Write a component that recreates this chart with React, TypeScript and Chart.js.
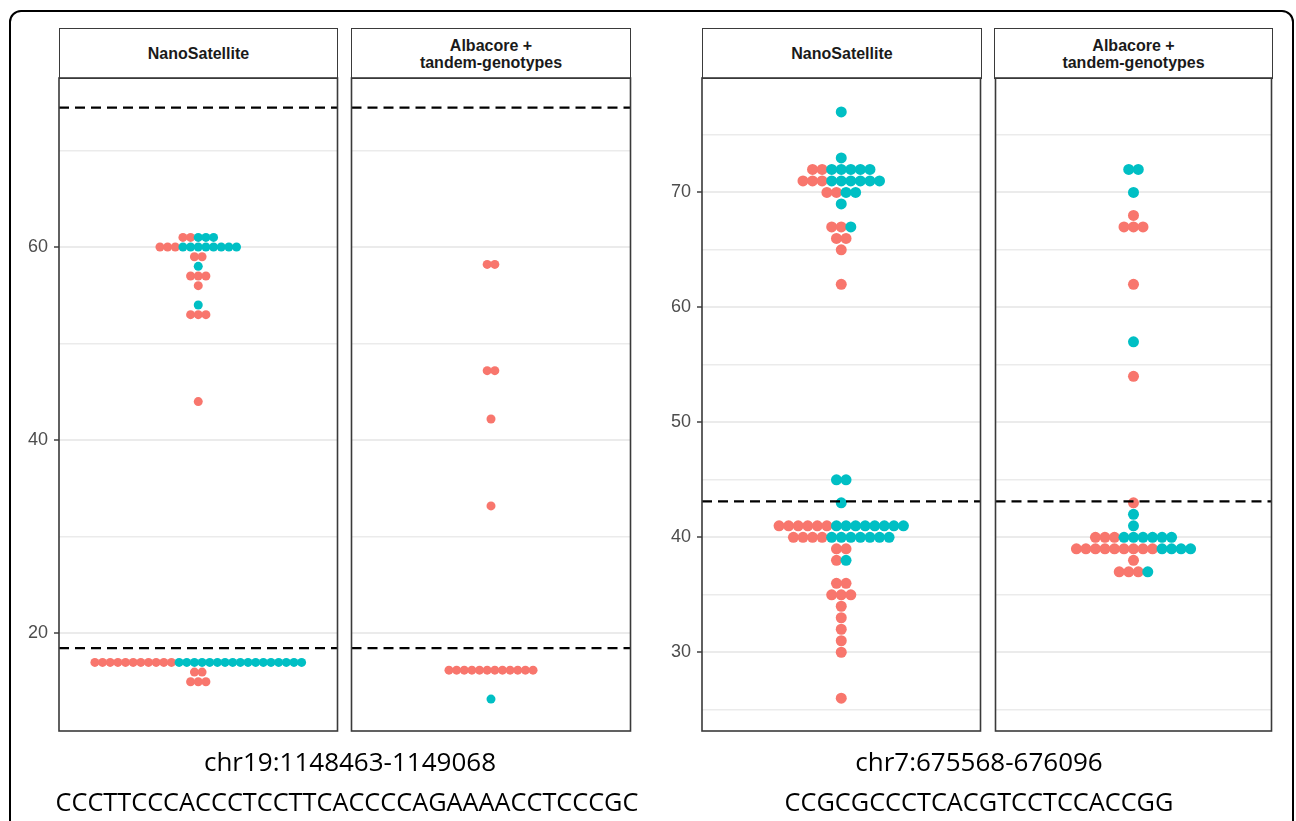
import React, { useEffect, useRef } from 'react';
import { Chart, registerables } from 'chart.js';

Chart.register(...registerables);

const RED = '#F8766D';
const TEAL = '#00BFC4';

// ---- chr19:1148463-1149068 ----
const chr19NanoValues = [61, 60, 59, 58, 57, 56, 54, 53, 44, 17, 16, 15];
const chr19NanoRed = [2, 3, 2, 0, 3, 1, 0, 3, 1, 11, 2, 3];
const chr19NanoTeal = [3, 8, 0, 1, 0, 0, 1, 0, 0, 17, 0, 0];

const chr19AlbValues = [58.2, 47.2, 42.2, 33.2, 16.2, 13.2];
const chr19AlbRed = [2, 2, 1, 1, 12, 0];
const chr19AlbTeal = [0, 0, 0, 0, 0, 1];

const chr19RefLines = [74.44, 18.48];
const chr19MajorTicks = [20, 40, 60];
const chr19MinorTicks = [30, 50, 70];

// ---- chr7:675568-676096 ----
const chr7NanoValues = [77, 73, 72, 71, 70, 69, 67, 66, 65, 62, 45, 43, 41, 40, 39, 38, 36, 35, 34, 33, 32, 31, 30, 26];
const chr7NanoRed = [0, 0, 2, 3, 2, 0, 2, 2, 1, 1, 0, 0, 6, 4, 2, 1, 2, 3, 1, 1, 1, 1, 1, 1];
const chr7NanoTeal = [1, 1, 5, 6, 2, 1, 1, 0, 0, 0, 2, 1, 8, 7, 0, 1, 0, 0, 0, 0, 0, 0, 0, 0];

const chr7AlbValues = [72, 70, 68, 67, 62, 57, 54, 43, 42, 41, 40, 39, 38, 37];
const chr7AlbRed = [0, 0, 1, 3, 1, 0, 1, 1, 0, 0, 3, 9, 1, 3];
const chr7AlbTeal = [2, 1, 0, 0, 0, 1, 0, 0, 1, 1, 6, 4, 0, 1];

const chr7RefLines = [43.13];
const chr7MajorTicks = [30, 40, 50, 60, 70];
const chr7MinorTicks = [25, 35, 45, 55, 65, 75];

const stripLabels = ['NanoSatellite', 'Albacore +\ntandem-genotypes'];
const regionLabels = ['chr19:1148463-1149068', 'chr7:675568-676096'];
const motifLabels = ['CCCTTCCCACCCTCCTTCACCCCAGAAAACCTCCCGC', 'CCGCGCCCTCACGTCCTCCACCGG'];

type Pt = { x: number; y: number };

function swarm(values: number[], red: number[], teal: number[]) {
  const r: Pt[] = [];
  const t: Pt[] = [];
  values.forEach((v, k) => {
    const n = red[k] + teal[k];
    for (let i = 0; i < n; i++) {
      const pt = { x: i - (n - 1) / 2, y: v };
      if (i < red[k]) r.push(pt);
      else t.push(pt);
    }
  });
  return { r, t };
}

const borderPlugin = {
  id: 'panelBorder',
  afterDraw(chart: any) {
    const { ctx, chartArea: a } = chart;
    ctx.save();
    ctx.strokeStyle = '#3A3A3A';
    ctx.lineWidth = 1.6;
    ctx.strokeRect(a.left, a.top, a.right - a.left, a.bottom - a.top);
    ctx.restore();
  },
};

type PanelProps = {
  left: number;
  top: number;
  width: number;
  height: number;
  axisWidth: number;
  values: number[];
  red: number[];
  teal: number[];
  refs: number[];
  major: number[];
  minor: number[];
  yMin: number;
  yMax: number;
  spacing: number;
  radius: number;
};

const PADY = 20;
const PADX = 4;

function Panel(p: PanelProps) {
  const ref = useRef<HTMLCanvasElement>(null);
  const hasAxis = p.axisWidth > 0;
  const leftPad = hasAxis ? p.axisWidth : PADX;
  const cw = leftPad + p.width + PADX;
  const ch = p.height + 2 * PADY;

  useEffect(() => {
    if (!ref.current) return;
    const sw = swarm(p.values, p.red, p.teal);
    const xHalf = p.width / p.spacing / 2;
    const allTicks = [...p.major, ...p.minor].sort((a, b) => a - b);
    const isMajor = (v: any) => p.major.includes(v);
    const chart = new Chart(ref.current, {
      type: 'scatter',
      data: {
        datasets: [
          ...p.refs.map((v) => ({
            type: 'line' as const,
            data: [
              { x: -xHalf, y: v },
              { x: xHalf, y: v },
            ],
            borderColor: '#000000',
            borderWidth: 2.3,
            borderDash: [10, 6],
            pointRadius: 0,
            fill: false,
            order: 0,
          })),
          {
            data: sw.r,
            backgroundColor: RED,
            borderColor: RED,
            borderWidth: 0,
            pointRadius: p.radius,
            order: 2,
          },
          {
            data: sw.t,
            backgroundColor: TEAL,
            borderColor: TEAL,
            borderWidth: 0,
            pointRadius: p.radius,
            order: 1,
          },
        ] as any,
      },
      options: {
        animation: false,
        responsive: false,
        maintainAspectRatio: false,
        events: [],
        layout: { padding: { left: hasAxis ? 0 : PADX, right: PADX, top: PADY, bottom: PADY } },
        plugins: { legend: { display: false }, tooltip: { enabled: false } },
        scales: {
          x: { type: 'linear', display: false, min: -xHalf, max: xHalf },
          y: {
            type: 'linear',
            min: p.yMin,
            max: p.yMax,
            afterBuildTicks: (s: any) => {
              s.ticks = allTicks.map((v) => ({ value: v }));
            },
            afterFit: (s: any) => {
              s.width = p.axisWidth;
            },
            border: { display: false },
            grid: {
              color: '#EBEBEB',
              lineWidth: (c: any) => (isMajor(c.tick?.value) ? 2 : 1.4),
              drawTicks: hasAxis,
              tickLength: 5,
              tickColor: (c: any) => (isMajor(c.tick?.value) ? '#333333' : 'rgba(0,0,0,0)'),
              tickWidth: 1.4,
            },
            ticks: {
              display: hasAxis,
              autoSkip: false,
              padding: 6,
              color: '#4D4D4D',
              font: { family: "'Liberation Sans', Arial, sans-serif", size: 18 },
              callback: (v: any) => (isMajor(v) ? String(v) : ''),
            },
          },
        },
      } as any,
      plugins: [borderPlugin],
    });
    return () => chart.destroy();
  }, []);

  return (
    <canvas
      ref={ref}
      width={cw}
      height={ch}
      style={{
        position: 'absolute',
        left: p.left - leftPad,
        top: p.top - PADY,
        width: cw,
        height: ch,
      }}
    />
  );
}

function Strip({ left, width, label }: { left: number; width: number; label: string }) {
  return (
    <div
      style={{
        position: 'absolute',
        left,
        top: 28,
        width,
        height: 51,
        boxSizing: 'border-box',
        border: '1.5px solid #3A3A3A',
        background: '#ffffff',
        display: 'flex',
        alignItems: 'center',
        justifyContent: 'center',
        textAlign: 'center',
        whiteSpace: 'pre-line',
        fontFamily: "'Liberation Sans', Arial, sans-serif",
        fontWeight: 'bold',
        fontSize: 16,
        lineHeight: '17px',
        color: '#1A1A1A',
      }}
    >
      {label}
    </div>
  );
}

function Caption({ cx, top, text, size }: { cx: number; top: number; text: string; size: number }) {
  return (
    <div
      style={{
        position: 'absolute',
        left: cx - 400,
        width: 800,
        top,
        textAlign: 'center',
        fontFamily: "'Open Sans', sans-serif",
        fontSize: size,
        lineHeight: '30px',
        color: '#000000',
        whiteSpace: 'nowrap',
      }}
    >
      {text}
    </div>
  );
}

const PANEL_TOP = 78;
const PANEL_H = 653;

export default function App() {
  return (
    <div
      style={{
        position: 'relative',
        width: 1296,
        height: 821,
        overflow: 'hidden',
        background: '#ffffff',
      }}
    >
      <style>{`html,body{margin:0;padding:0;overflow:hidden;}`}</style>
      <div
        style={{
          position: 'absolute',
          left: 9,
          top: 10,
          width: 1285,
          height: 880,
          boxSizing: 'border-box',
          border: '2px solid #000000',
          borderRadius: 12,
        }}
      />

      <Strip left={59} width={279} label={stripLabels[0]} />
      <Strip left={351} width={280} label={stripLabels[1]} />
      <Strip left={702} width={280} label={stripLabels[0]} />
      <Strip left={994} width={279} label={stripLabels[1]} />

      <Panel
        left={59} top={PANEL_TOP} width={279} height={PANEL_H} axisWidth={59}
        values={chr19NanoValues} red={chr19NanoRed} teal={chr19NanoTeal}
        refs={chr19RefLines} major={chr19MajorTicks} minor={chr19MinorTicks}
        yMin={9.9} yMax={77.5} spacing={7.67} radius={4.5}
      />
      <Panel
        left={351} top={PANEL_TOP} width={280} height={PANEL_H} axisWidth={0}
        values={chr19AlbValues} red={chr19AlbRed} teal={chr19AlbTeal}
        refs={chr19RefLines} major={chr19MajorTicks} minor={chr19MinorTicks}
        yMin={9.9} yMax={77.5} spacing={7.67} radius={4.5}
      />
      <Panel
        left={702} top={PANEL_TOP} width={280} height={PANEL_H} axisWidth={60}
        values={chr7NanoValues} red={chr7NanoRed} teal={chr7NanoTeal}
        refs={chr7RefLines} major={chr7MajorTicks} minor={chr7MinorTicks}
        yMin={23.15} yMax={79.95} spacing={9.62} radius={5.5}
      />
      <Panel
        left={994} top={PANEL_TOP} width={279} height={PANEL_H} axisWidth={0}
        values={chr7AlbValues} red={chr7AlbRed} teal={chr7AlbTeal}
        refs={chr7RefLines} major={chr7MajorTicks} minor={chr7MinorTicks}
        yMin={23.15} yMax={79.95} spacing={9.62} radius={5.5}
      />

      <Caption cx={350} top={746} text={regionLabels[0]} size={26} />
      <Caption cx={347} top={786} text={motifLabels[0]} size={25.3} />
      <Caption cx={979} top={746} text={regionLabels[1]} size={26} />
      <Caption cx={979} top={786} text={motifLabels[1]} size={25.3} />
    </div>
  );
}
